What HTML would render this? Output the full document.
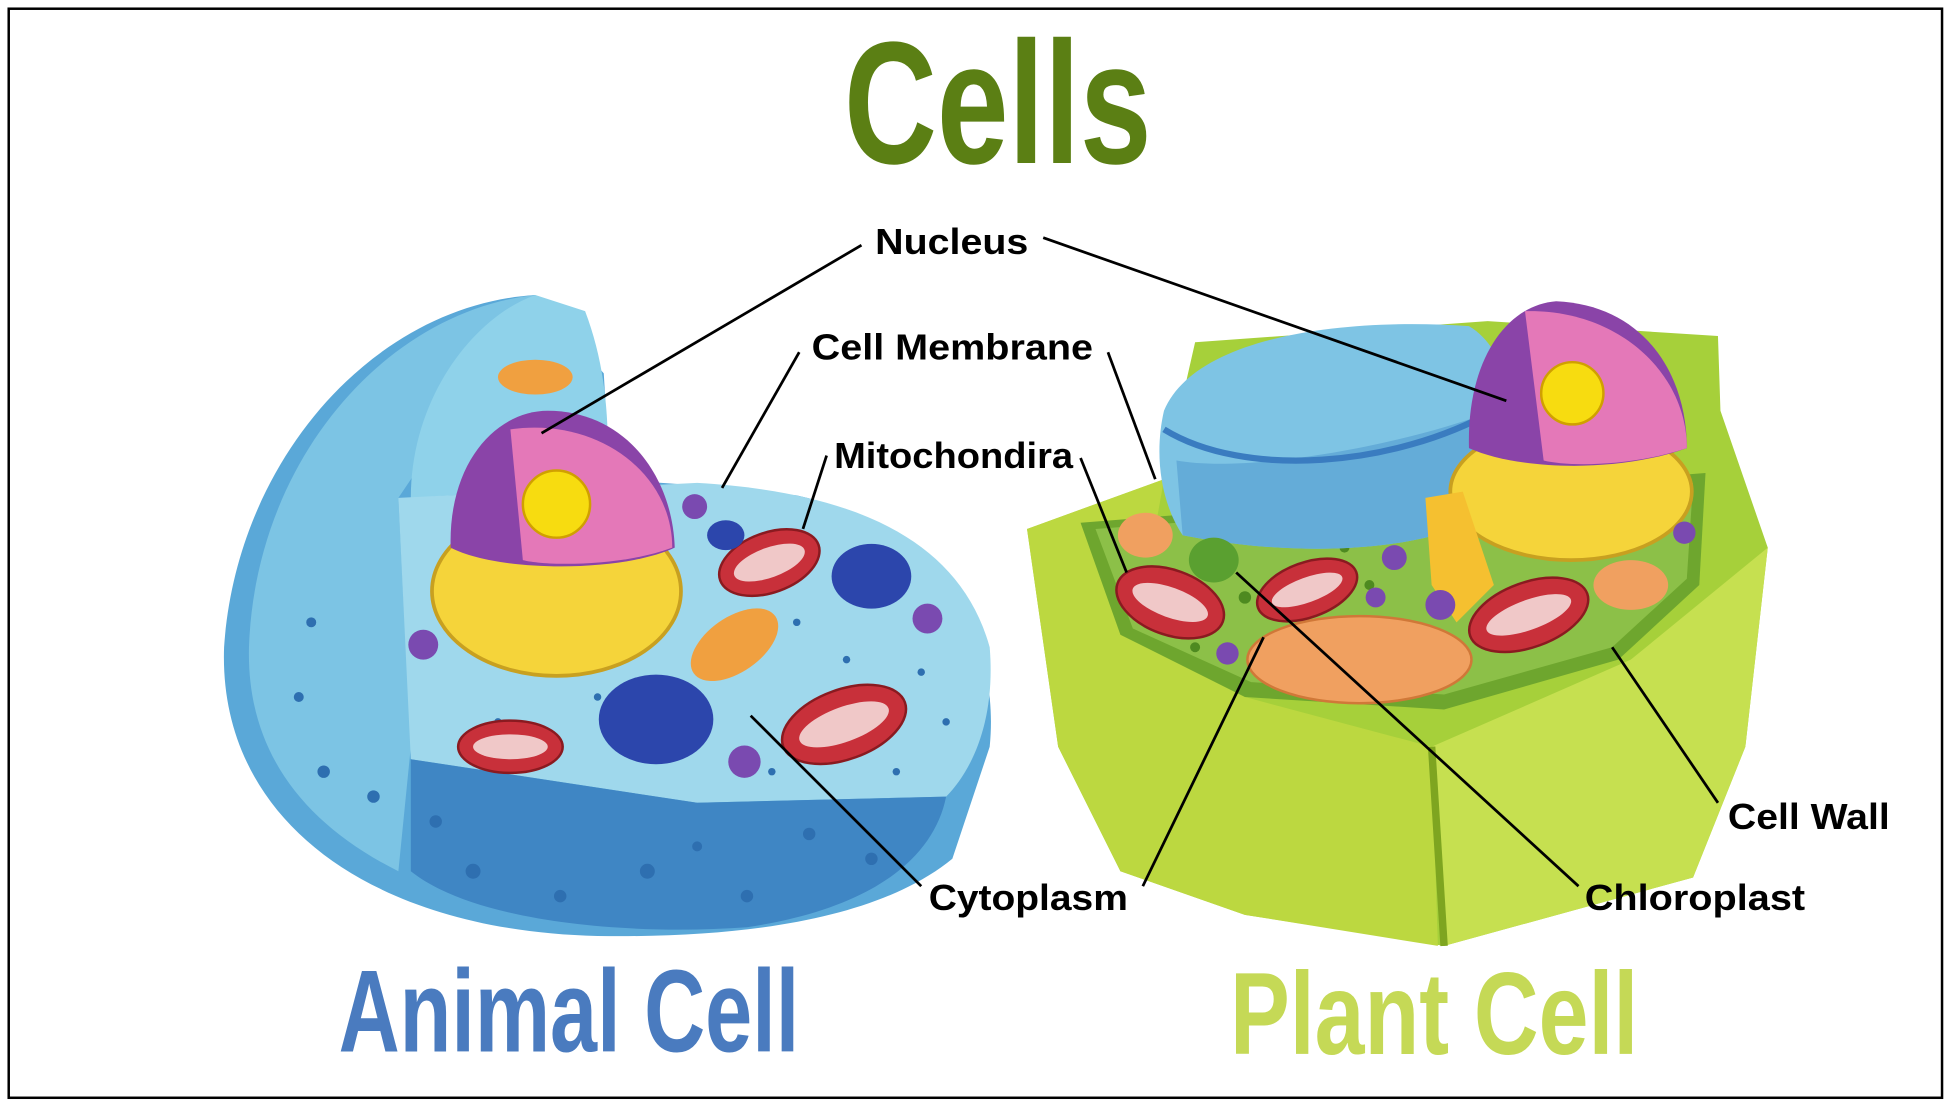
<!DOCTYPE html>
<html><head><meta charset="utf-8"><style>
html,body{margin:0;padding:0;background:#fff;}
svg{display:block}
</style></head><body>
<svg width="1952" height="1104" viewBox="0 0 1568 887" preserveAspectRatio="none" xmlns="http://www.w3.org/2000/svg">
<rect x="0" y="0" width="1568" height="887" fill="#fff"/>
<rect x="7" y="7" width="1553" height="875" fill="none" stroke="#000" stroke-width="2"/>
<text x="678" y="131" textLength="247" lengthAdjust="spacingAndGlyphs" font-family="Liberation Sans, sans-serif" font-weight="bold" font-size="140" fill="#5b7f14">Cells</text>

<!-- ANIMAL CELL -->
<path d="M430 237 C300 245 190 370 180 520 C175 660 300 748 480 752 C610 754 710 735 765 690 L795 600 C805 500 740 420 640 398 L560 390 L490 385 L485 300 Z" fill="#5aa8d8"/>
<path d="M430 237 C310 250 205 370 200 520 C198 600 240 660 320 700 L330 600 L320 400 Z" fill="#7cc4e4"/>
<path d="M430 237 L470 250 C485 290 490 330 488 390 L330 400 C330 320 380 255 430 237 Z" fill="#8fd2ea"/>
<path d="M320 400 L560 388 C680 395 770 430 795 520 C800 580 780 620 760 640 L560 645 L330 610 Z" fill="#9fd8ec"/>
<path d="M330 610 L560 645 L760 640 C750 690 700 730 600 745 C500 752 380 740 330 700 Z" fill="#3f86c4"/>
<g fill="#2e6fb0">
<circle cx="250" cy="500" r="4"/><circle cx="240" cy="560" r="4"/><circle cx="300" cy="640" r="5"/><circle cx="380" cy="700" r="6"/><circle cx="450" cy="720" r="5"/><circle cx="520" cy="700" r="6"/><circle cx="600" cy="720" r="5"/><circle cx="650" cy="670" r="5"/><circle cx="700" cy="690" r="5"/><circle cx="260" cy="620" r="5"/><circle cx="350" cy="660" r="5"/><circle cx="560" cy="680" r="4"/>
<circle cx="600" cy="470" r="3"/><circle cx="640" cy="500" r="3"/><circle cx="680" cy="530" r="3"/><circle cx="740" cy="540" r="3"/><circle cx="480" cy="560" r="3"/><circle cx="620" cy="620" r="3"/><circle cx="720" cy="620" r="3"/><circle cx="400" cy="580" r="3"/><circle cx="760" cy="580" r="3"/>
</g>
<!-- animal nucleus -->
<ellipse cx="447" cy="475" rx="100" ry="68" fill="#f5d43a" stroke="#c8a020" stroke-width="3"/>
<path d="M362 440 C360 370 400 330 440 330 C500 330 540 380 542 440 C500 460 400 460 362 440 Z" fill="#8a44a8"/>
<path d="M410 345 C480 335 540 380 540 440 C500 455 440 455 420 450 Z" fill="#e478b8"/>
<circle cx="447" cy="405" r="27" fill="#f7dc10" stroke="#d0a000" stroke-width="2"/>
<!-- mitochondria -->
<g fill="#c8303a" stroke="#8a1a20" stroke-width="2">
<ellipse cx="618" cy="452" rx="42" ry="24" transform="rotate(-20 618 452)"/>
<ellipse cx="678" cy="582" rx="52" ry="28" transform="rotate(-20 678 582)"/>
<ellipse cx="410" cy="600" rx="42" ry="21"/>
</g>
<g fill="#f0c8c8"><ellipse cx="618" cy="452" rx="30" ry="12" transform="rotate(-20 618 452)"/><ellipse cx="678" cy="582" rx="38" ry="14" transform="rotate(-20 678 582)"/><ellipse cx="410" cy="600" rx="30" ry="10"/></g>
<g fill="#2c46ac"><ellipse cx="700" cy="463" rx="32" ry="26"/><ellipse cx="527" cy="578" rx="46" ry="36"/><ellipse cx="583" cy="430" rx="15" ry="12"/></g>
<g fill="#7a4ab0"><circle cx="558" cy="407" r="10"/><circle cx="745" cy="497" r="12"/><circle cx="598" cy="612" r="13"/><circle cx="340" cy="518" r="12"/></g>
<g fill="#f0a040"><ellipse cx="590" cy="518" rx="40" ry="22" transform="rotate(-35 590 518)"/><ellipse cx="430" cy="303" rx="30" ry="14"/></g>

<!-- PLANT CELL -->
<path d="M825 425 L935 385 L960 275 L1195 258 L1380 270 L1382 330 L1420 440 L1402 600 L1360 705 L1160 760 L1000 735 L900 700 L850 600 Z" fill="#a6d03a"/>
<path d="M825 425 L935 385 L920 470 L1000 560 L1150 600 L1155 760 L1000 735 L900 700 L850 600 Z" fill="#bcd840"/>
<path d="M1150 600 L1310 530 L1420 440 L1402 600 L1360 705 L1160 760 Z" fill="#c6e050"/>
<path d="M1150 600 L1160 760" stroke="#7ea520" stroke-width="6"/>
<path d="M868 420 L1370 380 L1365 470 L1300 530 L1160 570 L1000 560 L900 510 Z" fill="#6ea62e"/>
<path d="M880 425 L1360 388 L1355 465 L1295 520 L1160 558 L1005 548 L910 505 Z" fill="#8cc048"/>
<g fill="#4e8a20"><circle cx="1000" cy="480" r="5"/><circle cx="1100" cy="470" r="4"/><circle cx="1150" cy="520" r="5"/><circle cx="960" cy="520" r="4"/><circle cx="1300" cy="430" r="4"/><circle cx="1080" cy="440" r="4"/></g>
<path d="M935 330 C960 270 1080 255 1180 262 C1210 280 1215 320 1200 350 L1180 420 C1140 440 1050 450 950 430 C930 400 928 360 935 330 Z" fill="#7ec4e4"/>
<path d="M945 370 C1000 380 1120 360 1200 330 L1180 420 C1140 440 1050 450 950 430 Z" fill="#64acd8"/>
<path d="M935 345 C1000 385 1120 375 1200 330" fill="none" stroke="#3a7cc0" stroke-width="5"/>
<!-- plant nucleus -->
<ellipse cx="1262" cy="395" rx="97" ry="55" fill="#f5d43a" stroke="#c8a020" stroke-width="3"/>
<path d="M1180 360 C1178 290 1210 245 1250 242 C1320 245 1355 300 1355 360 C1300 380 1220 378 1180 360 Z" fill="#8a44a8"/>
<path d="M1225 250 C1300 248 1355 300 1355 360 C1310 375 1260 375 1240 370 Z" fill="#e478b8"/>
<circle cx="1263" cy="316" r="25" fill="#f7dc10" stroke="#d0a000" stroke-width="2"/>
<path d="M1145 400 L1175 395 L1200 470 L1170 500 L1150 470 Z" fill="#f5c030"/>
<ellipse cx="1092" cy="530" rx="90" ry="35" fill="#f0a060" stroke="#d07838" stroke-width="2"/>
<ellipse cx="1310" cy="470" rx="30" ry="20" fill="#f0a060"/>
<ellipse cx="920" cy="430" rx="22" ry="18" fill="#f0a060"/>
<g fill="#c8303a" stroke="#8a1a20" stroke-width="2">
<ellipse cx="940" cy="484" rx="45" ry="26" transform="rotate(20 940 484)"/>
<ellipse cx="1050" cy="474" rx="42" ry="22" transform="rotate(-20 1050 474)"/>
<ellipse cx="1228" cy="494" rx="50" ry="26" transform="rotate(-20 1228 494)"/>
</g>
<g fill="#f0c8c8"><ellipse cx="940" cy="484" rx="32" ry="12" transform="rotate(20 940 484)"/><ellipse cx="1050" cy="474" rx="30" ry="10" transform="rotate(-20 1050 474)"/><ellipse cx="1228" cy="494" rx="36" ry="12" transform="rotate(-20 1228 494)"/></g>
<ellipse cx="975" cy="450" rx="20" ry="18" fill="#5aa030"/>
<g fill="#7a4ab0"><circle cx="1120" cy="448" r="10"/><circle cx="1105" cy="480" r="8"/><circle cx="1157" cy="486" r="12"/><circle cx="986" cy="525" r="9"/><circle cx="1353" cy="428" r="9"/></g>

<!-- leader lines -->
<g stroke="#000" stroke-width="2.2" fill="none">
<line x1="692" y1="197" x2="435" y2="348"/>
<line x1="838" y1="191" x2="1210" y2="322"/>
<line x1="642" y1="283" x2="580" y2="392"/>
<line x1="890" y1="283" x2="928" y2="385"/>
<line x1="664" y1="366" x2="645" y2="425"/>
<line x1="868" y1="368" x2="905" y2="460"/>
<line x1="740" y1="712" x2="603" y2="575"/>
<line x1="918" y1="712" x2="1015" y2="512"/>
<line x1="1380" y1="645" x2="1295" y2="520"/>
<line x1="1268" y1="712" x2="993" y2="460"/>
</g>
<g font-family="Liberation Sans, sans-serif" font-weight="bold" font-size="29" fill="#000" lengthAdjust="spacingAndGlyphs">
<text x="703" y="204" textLength="123" lengthAdjust="spacingAndGlyphs">Nucleus</text>
<text x="652" y="289" textLength="226" lengthAdjust="spacingAndGlyphs">Cell Membrane</text>
<text x="670" y="376" textLength="192" lengthAdjust="spacingAndGlyphs">Mitochondira</text>
<text x="746" y="731" textLength="160" lengthAdjust="spacingAndGlyphs">Cytoplasm</text>
<text x="1388" y="666" textLength="130" lengthAdjust="spacingAndGlyphs">Cell Wall</text>
<text x="1273" y="731" textLength="177" lengthAdjust="spacingAndGlyphs">Chloroplast</text>
</g>
<text x="272" y="845" textLength="370" lengthAdjust="spacingAndGlyphs" font-family="Liberation Sans, sans-serif" font-weight="bold" font-size="94" fill="#4a7bbf">Animal Cell</text>
<text x="988" y="847" textLength="328" lengthAdjust="spacingAndGlyphs" font-family="Liberation Sans, sans-serif" font-weight="bold" font-size="94" fill="#c5d956">Plant Cell</text>
</svg>
</body></html>
